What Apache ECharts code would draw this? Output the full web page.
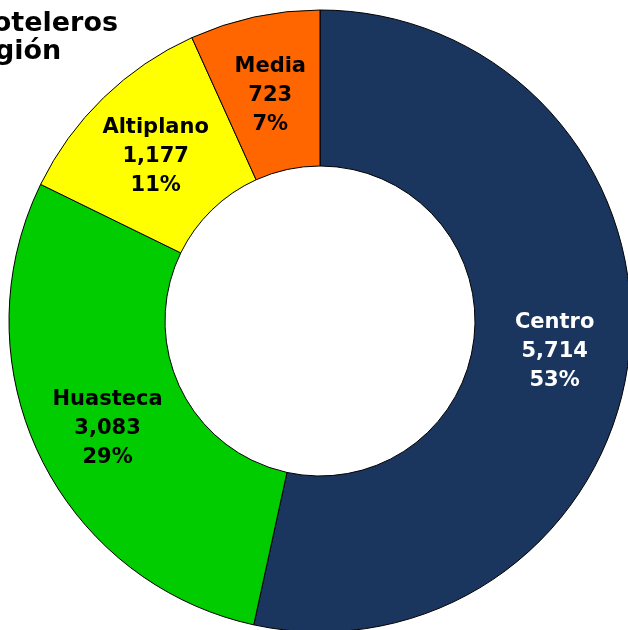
<!DOCTYPE html>
<html>
<head>
<meta charset="utf-8">
<script src="https://cdn.jsdelivr.net/npm/echarts@6/dist/echarts.min.js"></script>
<style>
  html, body { margin: 0; padding: 0; background: #fff; }
  #chart { width: 628px; height: 630px; }
</style>
</head>
<body>
<div id="chart"></div>
<script>
// regiones y cuartos
const regiones = ['Centro', 'Huasteca', 'Altiplano', 'Media'];
const cuartos = [5714, 3083, 1177, 723];
const colores = ['#1b365e', '#00cc00', '#ffff00', '#ff6600'];
const colorTexto = ['#ffffff', '#000000', '#000000', '#000000'];

const myChart = echarts.init(document.getElementById('chart'));

const fmt = (v) => String(v).replace(/\B(?=(\d{3})+(?!\d))/g, ',');

const option = {
  backgroundColor: '#fff',
  title: {
    text: 'Cuartos hoteleros\npor región',
    left: -23,
    top: 5,
    textAlign: 'center',
    textStyle: {
      fontFamily: 'DejaVu Sans',
      fontWeight: 'bold',
      fontSize: 27,
      lineHeight: 28,
      color: '#000',
    },
  },
  series: [
    {
      type: 'pie',
      center: [320, 321],
      radius: [155, 311],
      startAngle: 90,
      clockwise: true,
      animation: false,
      itemStyle: {
        borderColor: '#000',
        borderWidth: 1,
      },
      label: {
        show: true,
        position: 'inside',
        offset: [0, 5],
        fontFamily: 'DejaVu Sans',
        fontWeight: 'bold',
        fontSize: 21,
        lineHeight: 29,
        formatter: function (p) {
          return p.name + '\n' + fmt(p.value) + '\n' + Math.round(p.percent) + '%';
        },
      },
      labelLine: { show: false },
      data: regiones.map((r, i) => ({
        name: r,
        value: cuartos[i],
        itemStyle: { color: colores[i] },
        label: { color: colorTexto[i] },
      })),
    },
  ],
};

myChart.setOption(option);
</script>
</body>
</html>
